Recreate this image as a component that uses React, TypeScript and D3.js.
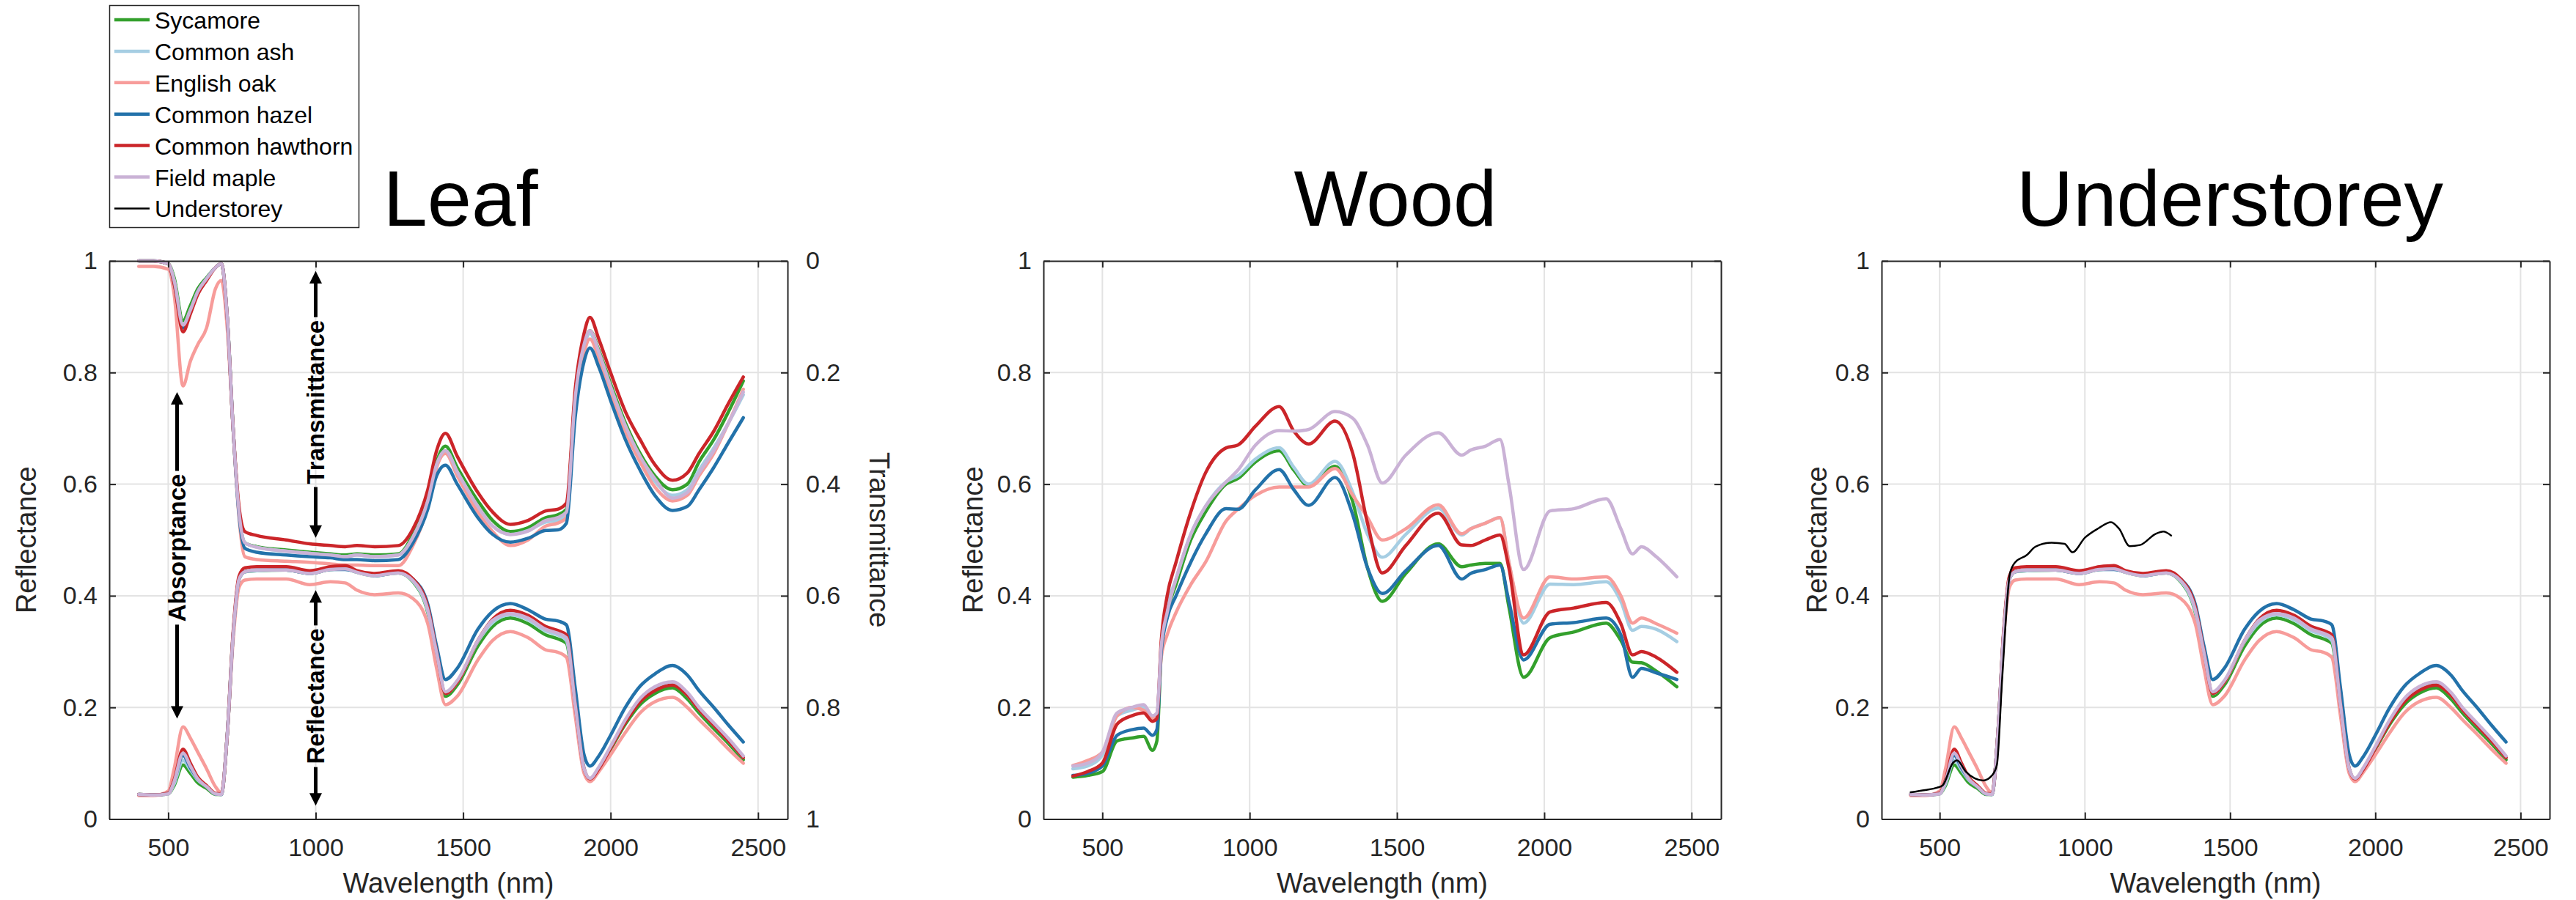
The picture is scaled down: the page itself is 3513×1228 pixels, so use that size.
import React, { useEffect, useRef } from "react";
import * as d3 from "d3";

const FONT = "'Liberation Sans', Arial, Helvetica, sans-serif";
const TICK_COLOR = "#262626";

const speciesNames = ["Sycamore", "Common ash", "English oak", "Common hazel", "Common hawthorn", "Field maple", "Understorey"];
const speciesColors = ["#33a02c", "#a6cee3", "#f79c9a", "#2372aa", "#cb2529", "#cab2d6", "#000000"];

const xTicks = [500, 1000, 1500, 2000, 2500];
const yTicks = [0, 0.2, 0.4, 0.6, 0.8, 1];

// leaf spectra (also reused in the understorey panel)
const leafWavelengths = [400, 450, 500, 520, 550, 575, 600, 630, 660, 680, 700, 720, 740, 760, 800, 900, 980, 1050, 1100, 1140, 1200, 1280, 1330, 1380, 1410, 1440, 1480, 1550, 1600, 1660, 1720, 1780, 1820, 1850, 1880, 1910, 1930, 1960, 2000, 2050, 2100, 2150, 2210, 2260, 2300, 2350, 2400, 2450];

const leafReflSycamore = [.044, .043, .045, .060, .097, .082, .065, .055, .044, .044, .15, .33, .43, .443, .445, .446, .44, .447, .448, .442, .436, .441, .425, .37, .29, .22, .24, .31, .345, .36, .35, .33, .323, .315, .2, .09, .07, .09, .125, .17, .205, .225, .235, .215, .19, .162, .135, .106];
const leafReflAsh = [.044, .043, .045, .063, .105, .088, .07, .058, .045, .044, .15, .33, .43, .443, .445, .446, .44, .447, .448, .442, .436, .441, .426, .372, .295, .225, .245, .318, .352, .366, .357, .337, .33, .32, .205, .092, .072, .092, .128, .175, .212, .232, .242, .222, .196, .168, .14, .11];
const leafReflOak = [.042, .042, .05, .09, .165, .145, .12, .09, .058, .047, .15, .32, .415, .428, .43, .43, .42, .425, .423, .41, .402, .405, .395, .35, .27, .205, .22, .285, .32, .336, .325, .303, .299, .29, .185, .082, .067, .085, .115, .155, .19, .21, .218, .2, .178, .152, .125, .1];
const leafReflHazel = [.044, .043, .046, .068, .114, .092, .072, .058, .045, .044, .15, .33, .43, .443, .446, .446, .44, .447, .447, .443, .436, .442, .43, .385, .31, .25, .27, .34, .372, .386, .375, .358, .355, .348, .235, .115, .095, .113, .15, .2, .238, .26, .275, .258, .23, .2, .168, .138];
const leafReflHawthorn = [.044, .043, .046, .07, .125, .1, .075, .06, .046, .045, .15, .335, .435, .45, .452, .452, .445, .452, .454, .445, .44, .445, .43, .38, .3, .225, .245, .32, .358, .374, .365, .345, .338, .33, .205, .09, .072, .09, .127, .173, .21, .23, .24, .222, .196, .168, .14, .11];
const leafReflMaple = [.044, .043, .045, .067, .118, .095, .072, .058, .045, .044, .15, .33, .43, .443, .446, .446, .44, .447, .448, .442, .436, .441, .427, .375, .298, .228, .248, .32, .356, .368, .36, .34, .333, .325, .205, .09, .073, .093, .13, .178, .216, .237, .246, .227, .2, .172, .144, .113];

// leaf transmittance, read on the reversed right axis
const leafTransSycamore = [0, 0, .005, .03, .107, .08, .05, .03, .012, .005, .1, .3, .45, .505, .512, .518, .522, .525, .527, .525, .527, .525, .49, .425, .36, .332, .37, .43, .465, .485, .478, .46, .455, .445, .24, .15, .125, .16, .22, .29, .345, .385, .41, .4, .36, .32, .27, .215];
const leafTransAsh = [0, 0, .005, .035, .115, .088, .055, .032, .012, .005, .1, .3, .45, .505, .513, .52, .524, .527, .53, .527, .53, .527, .495, .43, .365, .34, .378, .44, .475, .49, .483, .468, .465, .455, .25, .155, .13, .168, .23, .3, .355, .395, .42, .41, .375, .335, .29, .24];
const leafTransOak = [.01, .01, .015, .06, .224, .18, .15, .12, .05, .035, .12, .3, .46, .53, .535, .538, .54, .543, .545, .545, .546, .546, .51, .44, .37, .345, .385, .45, .485, .51, .5, .475, .47, .46, .26, .165, .14, .175, .235, .305, .36, .405, .43, .42, .385, .345, .29, .23];
const leafTransHazel = [0, 0, .005, .04, .12, .09, .055, .032, .012, .005, .1, .3, .455, .515, .522, .527, .53, .532, .535, .535, .537, .535, .505, .445, .385, .366, .4, .46, .49, .504, .497, .483, .482, .47, .28, .18, .156, .19, .25, .32, .375, .42, .447, .44, .41, .37, .325, .281];
const leafTransHawthorn = [0, 0, .005, .04, .127, .095, .06, .035, .012, .005, .1, .3, .44, .485, .492, .5, .507, .51, .512, .51, .512, .51, .48, .41, .34, .309, .35, .415, .45, .472, .465, .448, .445, .434, .23, .13, .101, .14, .2, .27, .32, .365, .393, .38, .345, .305, .255, .208];
const leafTransMaple = [0, 0, .005, .035, .115, .088, .055, .032, .012, .005, .1, .3, .45, .505, .513, .52, .524, .527, .53, .527, .53, .527, .495, .43, .365, .34, .378, .44, .475, .49, .484, .465, .46, .45, .245, .15, .125, .163, .225, .295, .35, .39, .425, .415, .38, .34, .29, .235];

// wood spectra
const woodWavelengths = [400, 450, 500, 550, 600, 640, 670, 685, 700, 720, 750, 800, 850, 920, 960, 1020, 1100, 1150, 1200, 1290, 1350, 1400, 1450, 1530, 1640, 1720, 1750, 1800, 1850, 1880, 1930, 2020, 2100, 2210, 2260, 2300, 2330, 2380, 2450];

const woodSycamore = [.075, .078, .085, .14, .145, .148, .123, .14, .3, .37, .42, .5, .55, .6, .61, .64, .66, .625, .597, .632, .568, .45, .39, .44, .493, .452, .455, .458, .458, .38, .254, .325, .335, .351, .32, .281, .28, .265, .237];
const woodAsh = [.09, .095, .115, .185, .195, .2, .18, .185, .31, .38, .43, .51, .56, .604, .615, .645, .665, .63, .6, .641, .585, .51, .469, .51, .557, .509, .52, .53, .54, .46, .351, .421, .42, .425, .39, .338, .345, .34, .318];
const woodOak = [.096, .105, .12, .185, .2, .195, .18, .185, .29, .33, .37, .42, .46, .534, .555, .58, .595, .595, .595, .628, .58, .54, .5, .52, .563, .511, .52, .53, .54, .46, .36, .434, .43, .434, .4, .351, .36, .35, .333];
const woodHazel = [.078, .082, .095, .15, .16, .163, .15, .16, .3, .36, .4, .46, .51, .556, .555, .59, .626, .59, .562, .612, .545, .45, .404, .445, .49, .43, .44, .447, .455, .39, .285, .349, .352, .36, .33, .254, .27, .262, .25];
const woodHawthorn = [.077, .085, .1, .17, .185, .19, .175, .18, .32, .4, .46, .55, .62, .665, .67, .704, .739, .695, .672, .713, .655, .53, .441, .49, .548, .491, .49, .5, .509, .45, .294, .371, .378, .388, .35, .294, .3, .29, .263];
const woodMaple = [.095, .1, .12, .19, .2, .205, .185, .19, .31, .37, .43, .51, .56, .604, .625, .67, .696, .695, .698, .73, .718, .67, .602, .652, .692, .652, .661, .668, .68, .6, .447, .552, .556, .574, .52, .475, .488, .47, .434];

// understorey spectrum
const understoreyWavelengths = [400, 450, 490, 510, 545, 560, 590, 620, 650, 680, 697, 715, 742, 760, 800, 830, 885, 930, 957, 1000, 1047, 1090, 1118, 1154, 1190, 1244, 1270, 1297];
const understoreyValues = [.048, .052, .056, .06, .1, .105, .085, .073, .069, .078, .097, .25, .44, .46, .473, .488, .495, .493, .478, .504, .521, .532, .52, .489, .491, .511, .515, .508];

const leafRefl = [leafReflSycamore, leafReflAsh, leafReflOak, leafReflHazel, leafReflHawthorn, leafReflMaple];
const leafTrans = [leafTransSycamore, leafTransAsh, leafTransOak, leafTransHazel, leafTransHawthorn, leafTransMaple];
const woodRefl = [woodSycamore, woodAsh, woodOak, woodHazel, woodHawthorn, woodMaple];

const leafArrows = [
  { label: "Absorptance", wl: 530, from: 0.18, to: 0.765, mid: 0.486 },
  { label: "Transmittance", wl: 1000, from: 0.504, to: 0.982, mid: 0.747 },
  { label: "Reflectance", wl: 1000, from: 0.024, to: 0.41, mid: 0.22 },
];

const W = 3513, H = 1228;
const TOP = 356, BOTTOM = 1117.5;

const panels = [
  { key: "leaf", title: "Leaf", titleX: 628, titleWidth: 211, left: 149, right: 1074, ylabelX: 49 },
  { key: "wood", title: "Wood", titleX: 1903, titleWidth: 277, left: 1423, right: 2347, ylabelX: 1340 },
  { key: "under", title: "Understorey", titleX: 3041, titleWidth: 582, left: 2566, right: 3477, ylabelX: 2491 },
];

function styleAxis(g: any, withLabels: boolean) {
  g.attr("font-family", FONT).attr("font-size", 34);
  g.select(".domain").attr("stroke", TICK_COLOR).attr("stroke-width", 2);
  g.selectAll(".tick line").attr("stroke", TICK_COLOR).attr("stroke-width", 2);
  if (withLabels) g.selectAll(".tick text").attr("fill", TICK_COLOR);
  else g.selectAll(".tick text").remove();
}

function drawPanel(svg: any, p: any) {
  const x = d3.scaleLinear().domain([300, 2600]).range([p.left, p.right]);
  const y = d3.scaleLinear().domain([0, 1]).range([BOTTOM, TOP]);
  const yT = d3.scaleLinear().domain([0, 1]).range([TOP, BOTTOM]);
  const g = svg.append("g");

  g.append("g")
    .selectAll("line")
    .data(xTicks)
    .join("line")
    .attr("x1", (d: number) => x(d))
    .attr("x2", (d: number) => x(d))
    .attr("y1", TOP)
    .attr("y2", BOTTOM)
    .attr("stroke", "#e3e3e3")
    .attr("stroke-width", 2);

  g.append("g")
    .selectAll("line")
    .data(yTicks.slice(1, -1))
    .join("line")
    .attr("x1", p.left)
    .attr("x2", p.right)
    .attr("y1", (d: number) => y(d))
    .attr("y2", (d: number) => y(d))
    .attr("stroke", "#e3e3e3")
    .attr("stroke-width", 2);

  const curves: any[] = [];
  if (p.key === "leaf") {
    leafTrans.forEach((v, i) => curves.push({ wl: leafWavelengths, v, color: speciesColors[i], scale: yT, w: 4.5 }));
    leafRefl.forEach((v, i) => curves.push({ wl: leafWavelengths, v, color: speciesColors[i], scale: y, w: 4.5 }));
  } else if (p.key === "wood") {
    woodRefl.forEach((v, i) => curves.push({ wl: woodWavelengths, v, color: speciesColors[i], scale: y, w: 4.5 }));
  } else {
    leafRefl.forEach((v, i) => curves.push({ wl: leafWavelengths, v, color: speciesColors[i], scale: y, w: 4.5 }));
    curves.push({ wl: understoreyWavelengths, v: understoreyValues, color: speciesColors[6], scale: y, w: 2.5 });
  }

  curves.forEach((c) => {
    const line = d3.line<number>()
      .x((d, i) => x(c.wl[i]))
      .y((d) => c.scale(d))
      .curve(d3.curveMonotoneX);
    g.append("path")
      .attr("d", line(c.v))
      .attr("fill", "none")
      .attr("stroke", c.color)
      .attr("stroke-width", c.w)
      .attr("stroke-linejoin", "round")
      .attr("stroke-linecap", "round");
  });

  // axes, MATLAB style box with inward ticks on all sides
  g.append("g")
    .attr("transform", `translate(0,${BOTTOM})`)
    .call(d3.axisBottom(x).tickValues(xTicks).tickSize(-9).tickSizeOuter(0).tickPadding(26).tickFormat(d3.format("d")))
    .call((a: any) => styleAxis(a, true));
  g.append("g")
    .attr("transform", `translate(0,${TOP})`)
    .call(d3.axisTop(x).tickValues(xTicks).tickSize(-9).tickSizeOuter(0))
    .call((a: any) => styleAxis(a, false));
  g.append("g")
    .attr("transform", `translate(${p.left},0)`)
    .call(d3.axisLeft(y).tickValues(yTicks).tickSize(-9).tickSizeOuter(0).tickPadding(16).tickFormat(d3.format("~g")))
    .call((a: any) => styleAxis(a, true));
  if (p.key === "leaf") {
    g.append("g")
      .attr("transform", `translate(${p.right},0)`)
      .call(d3.axisRight(yT).tickValues(yTicks).tickSize(-9).tickSizeOuter(0).tickPadding(25).tickFormat(d3.format("~g")))
      .call((a: any) => styleAxis(a, true));
    g.append("text")
      .attr("transform", `translate(1186,${(TOP + BOTTOM) / 2}) rotate(90)`)
      .attr("text-anchor", "middle")
      .attr("font-size", 38)
      .attr("fill", TICK_COLOR)
      .text("Transmittance");
  } else {
    g.append("g")
      .attr("transform", `translate(${p.right},0)`)
      .call(d3.axisRight(y).tickValues(yTicks).tickSize(-9).tickSizeOuter(0))
      .call((a: any) => styleAxis(a, false));
  }

  g.append("text")
    .attr("x", (p.left + p.right) / 2)
    .attr("y", 1218)
    .attr("text-anchor", "middle")
    .attr("font-size", 38)
    .attr("fill", TICK_COLOR)
    .text("Wavelength (nm)");

  g.append("text")
    .attr("transform", `translate(${p.ylabelX},${(TOP + BOTTOM) / 2}) rotate(-90)`)
    .attr("text-anchor", "middle")
    .attr("font-size", 38)
    .attr("fill", TICK_COLOR)
    .text("Reflectance");

  g.append("text")
    .attr("x", p.titleX)
    .attr("y", 308)
    .attr("text-anchor", "middle")
    .attr("font-size", 108)
    .attr("textLength", p.titleWidth)
    .attr("lengthAdjust", "spacingAndGlyphs")
    .attr("fill", "#000")
    .text(p.title);

  if (p.key === "leaf") drawArrows(g, x, y);
}

function drawArrows(g: any, x: any, y: any) {
  const head = 17;
  leafArrows.forEach((a) => {
    const cx = x(a.wl);
    const yTop = y(a.to), yBot = y(a.from), yMid = y(a.mid);
    const t = g.append("text")
      .attr("transform", `translate(${cx + 11},${yMid}) rotate(-90)`)
      .attr("text-anchor", "middle")
      .attr("font-size", 33)
      .attr("font-weight", "bold")
      .attr("fill", "#000")
      .text(a.label);
    const half = (t.node() as SVGTextElement).getComputedTextLength() / 2 + 4;
    const segs = [[yTop + head - 2, yMid - half], [yMid + half, yBot - head + 2]];
    segs.forEach((s) => {
      g.append("line")
        .attr("x1", cx).attr("x2", cx)
        .attr("y1", s[0]).attr("y2", s[1])
        .attr("stroke", "#000")
        .attr("stroke-width", 5);
    });
    g.append("path")
      .attr("d", `M${cx},${yTop}L${cx - head / 2},${yTop + head}L${cx + head / 2},${yTop + head}Z`)
      .attr("fill", "#000");
    g.append("path")
      .attr("d", `M${cx},${yBot}L${cx - head / 2},${yBot - head}L${cx + head / 2},${yBot - head}Z`)
      .attr("fill", "#000");
  });
}

function drawLegend(svg: any) {
  const lg = svg.append("g");
  lg.append("rect")
    .attr("x", 149.5)
    .attr("y", 7.5)
    .attr("width", 340)
    .attr("height", 303)
    .attr("fill", "#fff")
    .attr("stroke", TICK_COLOR)
    .attr("stroke-width", 1.5);
  const items = lg.selectAll(".item")
    .data(speciesNames)
    .join("g")
    .attr("class", "item")
    .attr("transform", (d: string, i: number) => `translate(0,${27 + i * 42.9})`);
  items.append("line")
    .attr("x1", 156)
    .attr("x2", 204)
    .attr("y1", 0)
    .attr("y2", 0)
    .attr("stroke", (d: string, i: number) => speciesColors[i])
    .attr("stroke-width", (d: string, i: number) => (i === 6 ? 2.5 : 4.5));
  items.append("text")
    .attr("x", 211)
    .attr("y", 12)
    .attr("font-size", 32)
    .attr("fill", "#000")
    .text((d: string) => d);
}

export default function App() {
  const ref = useRef<SVGSVGElement>(null);

  useEffect(() => {
    const svg = d3.select(ref.current);
    svg.selectAll("*").remove();
    svg.append("rect").attr("width", W).attr("height", H).attr("fill", "#fff");
    panels.forEach((p) => drawPanel(svg, p));
    drawLegend(svg);
  }, []);

  return (
    <svg
      ref={ref}
      width={W}
      height={H}
      style={{ position: "absolute", left: 0, top: 0, fontFamily: FONT }}
    />
  );
}
